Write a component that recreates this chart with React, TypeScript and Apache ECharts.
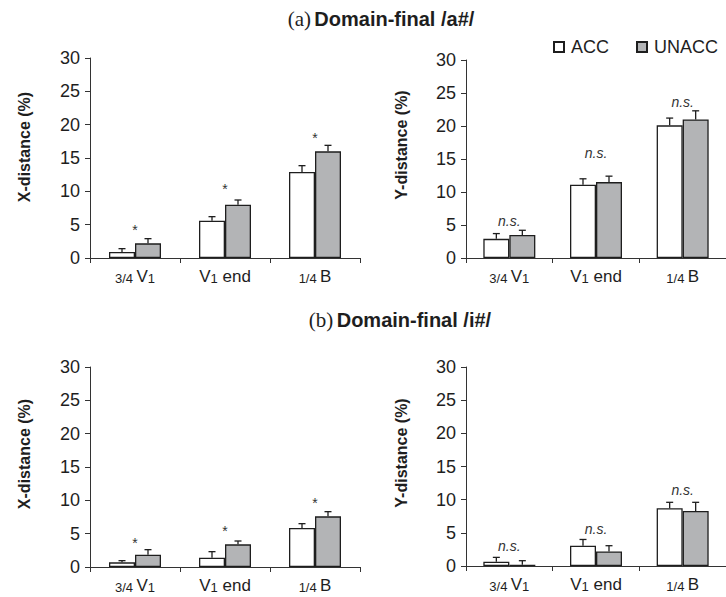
import React, { useEffect, useRef } from "react";
import * as echarts from "echarts";

// ---------- data ----------
const categories = ["3/4 V1", "V1 end", "1/4 B"];
const seriesNames = ["ACC", "UNACC"];

// Panel (a) Domain-final /a#/
const aX_ACC = [0.9, 5.6, 12.9];
const aX_ACC_err = [0.5, 0.6, 0.95];
const aX_UNACC = [2.2, 8.0, 16.0];
const aX_UNACC_err = [0.7, 0.7, 0.9];
const aX_marks = ["*", "*", "*"];
const aX_markY = [4.65, 10.8, 18.4];

const aY_ACC = [2.9, 11.1, 20.1];
const aY_ACC_err = [0.8, 0.9, 1.1];
const aY_UNACC = [3.5, 11.5, 21.0];
const aY_UNACC_err = [0.7, 0.9, 1.3];
const aY_marks = ["n.s.", "n.s.", "n.s."];
const aY_markY = [5.65, 15.95, 23.7];

// Panel (b) Domain-final /i#/
const bX_ACC = [0.7, 1.4, 5.85];
const bX_ACC_err = [0.25, 0.9, 0.65];
const bX_UNACC = [1.85, 3.4, 7.6];
const bX_UNACC_err = [0.75, 0.5, 0.7];
const bX_marks = ["*", "*", "*"];
const bX_markY = [4.1, 5.9, 10.1];

const bY_ACC = [0.65, 3.06, 8.7];
const bY_ACC_err = [0.65, 0.94, 0.9];
const bY_UNACC = [0.2, 2.2, 8.3];
const bY_UNACC_err = [0.6, 0.86, 1.3];
const bY_marks = ["n.s.", "n.s.", "n.s."];
const bY_markY = [3.0, 5.6, 11.45];

const yTicks = { min: 0, max: 30, interval: 5 };

const titleA = { tag: "(a)", text: "Domain-final /a#/" };
const titleB = { tag: "(b)", text: "Domain-final /i#/" };
const yNames = ["X-distance (%)", "Y-distance (%)", "X-distance (%)", "Y-distance (%)"];

// ---------- styles ----------
const SANS = "'Liberation Sans', Arial, Helvetica, sans-serif";
const SERIF = "'Liberation Serif', 'Times New Roman', serif";
const INK = "#1e1e1e";
const GRAY = "#b3b4b6";
const BAR_W = 26;

const labelRich = {
  v: { fontSize: 17, fontFamily: SANS, color: INK, verticalAlign: "bottom" },
  s: { fontSize: 13, fontFamily: SANS, color: INK, verticalAlign: "bottom" },
};
function fmtCat(c: string): string {
  if (c === "3/4 V1") return "{s|3/4} {v|V}{s|1}";
  if (c === "V1 end") return "{v|V}{s|1}{v| end}";
  if (c === "1/4 B") return "{s|1/4} {v|B}";
  return "{v|" + c + "}";
}

const grids = [
  { left: 90, top: 58, width: 270, height: 200 },
  { left: 466, top: 60, width: 270, height: 198 },
  { left: 90, top: 367, width: 270, height: 200 },
  { left: 466, top: 367, width: 270, height: 199 },
];
const yNamePos = [
  [24, 147],
  [401, 145],
  [24, 454],
  [401, 453],
];

function errSeries(idx: number, vals: number[], errs: number[], offset: number) {
  return {
    type: "custom",
    xAxisIndex: idx,
    yAxisIndex: idx,
    z: 5,
    silent: true,
    data: vals.map((v, i) => [i, v, errs[i]]),
    renderItem: (params: any, api: any) => {
      const x = api.value(0);
      const v = api.value(1);
      const e = api.value(2);
      const base = api.coord([x, v]);
      const top = api.coord([x, v + e]);
      const cx = base[0] + offset;
      return {
        type: "group",
        children: [
          { type: "line", shape: { x1: cx, y1: base[1], x2: cx, y2: top[1] }, style: { stroke: INK, lineWidth: 1.3 } },
          { type: "line", shape: { x1: cx - 3.5, y1: top[1], x2: cx + 3.5, y2: top[1] }, style: { stroke: INK, lineWidth: 1.3 } },
        ],
      };
    },
  };
}

function markSeries(idx: number, marks: string[], ys: number[]) {
  return {
    type: "custom",
    xAxisIndex: idx,
    yAxisIndex: idx,
    z: 6,
    silent: true,
    data: ys.map((y, i) => [i, y]),
    renderItem: (params: any, api: any) => {
      const p = api.coord([api.value(0), api.value(1)]);
      const m = marks[params.dataIndex];
      const isStar = m === "*";
      return {
        type: "text",
        x: p[0],
        y: p[1] + (isStar ? 3 : 0),
        style: {
          text: m,
          fill: "#333",
          fontSize: 14,
          fontFamily: SANS,
          fontStyle: isStar ? "normal" : "italic",
          align: "center",
          verticalAlign: "middle",
        },
      };
    },
  };
}

function barSeries(idx: number, name: string, vals: number[], fill: string) {
  return {
    type: "bar",
    name,
    xAxisIndex: idx,
    yAxisIndex: idx,
    barWidth: BAR_W,
    barGap: "0%",
    data: vals,
    itemStyle: { color: fill, borderColor: INK, borderWidth: 1.3 },
    emphasis: { disabled: true },
  };
}

const panels = [
  { acc: aX_ACC, accE: aX_ACC_err, un: aX_UNACC, unE: aX_UNACC_err, marks: aX_marks, my: aX_markY },
  { acc: aY_ACC, accE: aY_ACC_err, un: aY_UNACC, unE: aY_UNACC_err, marks: aY_marks, my: aY_markY },
  { acc: bX_ACC, accE: bX_ACC_err, un: bX_UNACC, unE: bX_UNACC_err, marks: bX_marks, my: bX_markY },
  { acc: bY_ACC, accE: bY_ACC_err, un: bY_UNACC, unE: bY_UNACC_err, marks: bY_marks, my: bY_markY },
];

function titleGraphic(t: { tag: string; text: string }, x: number, y: number) {
  return {
    type: "text",
    x,
    y,
    silent: true,
    style: {
      text: "{p|" + t.tag + "} {b|" + t.text + "}",
      rich: {
        p: { fontFamily: SERIF, fontSize: 21, fill: INK },
        b: { fontFamily: SANS, fontSize: 20, fontWeight: "bold", fill: INK },
      },
      align: "center",
      verticalAlign: "middle",
      textAlign: "center",
      textVerticalAlign: "middle",
    },
  };
}

function yNameGraphic(text: string, x: number, y: number) {
  return {
    type: "text",
    x,
    y,
    rotation: Math.PI / 2,
    silent: true,
    style: {
      text,
      fill: INK,
      fontSize: 16,
      fontWeight: "bold",
      fontFamily: SANS,
      align: "center",
      verticalAlign: "middle",
      textAlign: "center",
      textVerticalAlign: "middle",
    },
  };
}

export default function App() {
  const ref = useRef<HTMLDivElement>(null);
  useEffect(() => {
    if (!ref.current) return;
    const chart = echarts.init(ref.current, undefined, { renderer: "svg" });
    const series: any[] = [];
    panels.forEach((p, i) => {
      series.push(barSeries(i, seriesNames[0], p.acc, "#ffffff"));
      series.push(barSeries(i, seriesNames[1], p.un, GRAY));
      series.push(errSeries(i, p.acc, p.accE, -BAR_W / 2));
      series.push(errSeries(i, p.un, p.unE, BAR_W / 2));
      series.push(markSeries(i, p.marks, p.my));
    });
    chart.setOption({
      animation: false,
      backgroundColor: "#ffffff",
      textStyle: { fontFamily: SANS },
      grid: grids.map((g) => ({ ...g, containLabel: false })),
      legend: {
        orient: "horizontal",
        left: 553,
        top: 38,
        padding: 0,
        itemWidth: 10,
        itemHeight: 10,
        itemGap: 27,
        selectedMode: false,
        data: [
          { name: "ACC", icon: "rect", itemStyle: { color: "#ffffff", borderColor: INK, borderWidth: 2 } },
          { name: "UNACC", icon: "rect", itemStyle: { color: GRAY, borderColor: INK, borderWidth: 2 } },
        ],
        textStyle: { fontSize: 18, color: INK, fontFamily: SANS, padding: [0, 0, 0, 2] },
      },
      xAxis: grids.map((_, i) => ({
        type: "category",
        gridIndex: i,
        data: categories,
        axisLine: { show: true, lineStyle: { color: "#333", width: 1 } },
        axisTick: { show: true, length: 5, lineStyle: { color: "#333" } },
        axisLabel: { interval: 0, margin: 10, formatter: fmtCat, rich: labelRich, color: INK },
        splitLine: { show: false },
      })),
      yAxis: grids.map((_, i) => ({
        type: "value",
        gridIndex: i,
        min: yTicks.min,
        max: yTicks.max,
        interval: yTicks.interval,
        axisLine: { show: true, lineStyle: { color: "#333", width: 1 } },
        axisTick: { show: true, length: 5, lineStyle: { color: "#333" } },
        axisLabel: { margin: 10, fontSize: 18, color: INK, fontFamily: SANS },
        splitLine: { show: false },
      })),
      graphic: [
        titleGraphic(titleA, 381, 19),
        titleGraphic(titleB, 400, 320),
        ...yNames.map((n, i) => yNameGraphic(n, yNamePos[i][0], yNamePos[i][1])),
      ],
      series,
    });
    return () => chart.dispose();
  }, []);
  return (
    <div
      ref={ref}
      style={{ position: "fixed", left: 0, top: 0, width: 726, height: 597, background: "#fff" }}
    />
  );
}
